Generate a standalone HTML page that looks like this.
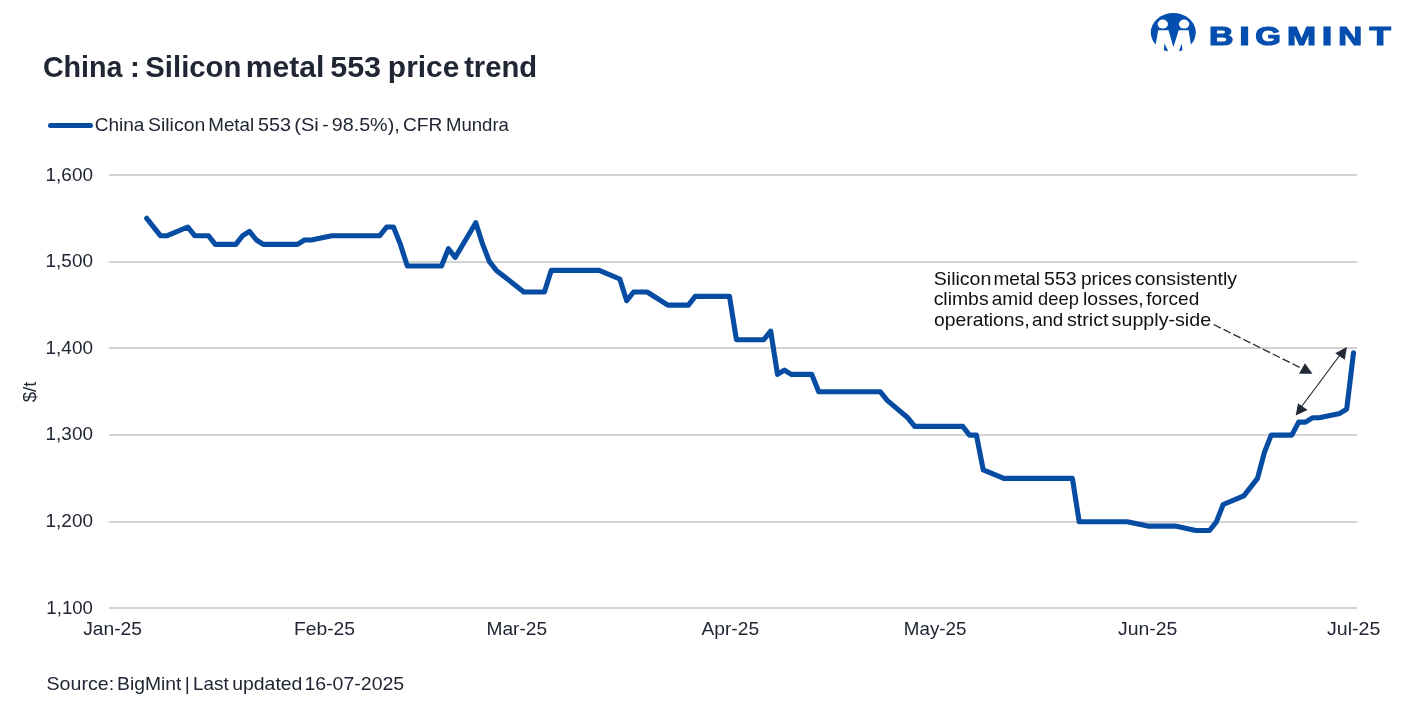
<!DOCTYPE html>
<html><head><meta charset="utf-8"><style>
html,body{margin:0;padding:0;background:#fff;}
body{width:1407px;height:709px;overflow:hidden;position:relative;}
svg{position:absolute;left:0;top:0;will-change:transform;}
text{font-family:"Liberation Sans",Arial,sans-serif;}
</style></head><body>
<svg width="1407" height="709" viewBox="0 0 1407 709">
<text x="42.88" y="76.95" font-size="29.8" font-weight="bold" fill="#202633" textLength="79.61" lengthAdjust="spacingAndGlyphs">China</text>
<text x="129.88" y="76.95" font-size="29.8" font-weight="bold" fill="#202633" textLength="9.87" lengthAdjust="spacingAndGlyphs">:</text>
<text x="145.3" y="76.95" font-size="29.8" font-weight="bold" fill="#202633" textLength="96.11" lengthAdjust="spacingAndGlyphs">Silicon</text>
<text x="245.68" y="76.95" font-size="29.8" font-weight="bold" fill="#202633" textLength="78.64" lengthAdjust="spacingAndGlyphs">metal</text>
<text x="330.19" y="76.95" font-size="29.8" font-weight="bold" fill="#202633" textLength="50.87" lengthAdjust="spacingAndGlyphs">553</text>
<text x="387.89" y="76.95" font-size="29.8" font-weight="bold" fill="#202633" textLength="71.43" lengthAdjust="spacingAndGlyphs">price</text>
<text x="464.13" y="76.95" font-size="29.8" font-weight="bold" fill="#202633" textLength="73.08" lengthAdjust="spacingAndGlyphs">trend</text>
<line x1="50.5" y1="125.5" x2="90.5" y2="125.5" stroke="#064ca3" stroke-width="5.0" stroke-linecap="round"/>
<text x="94.67" y="131" font-size="18.5" fill="#202633" textLength="49.71" lengthAdjust="spacingAndGlyphs">China</text>
<text x="147.97" y="131" font-size="18.5" fill="#202633" textLength="57.31" lengthAdjust="spacingAndGlyphs">Silicon</text>
<text x="208.25" y="131" font-size="18.5" fill="#202633" textLength="45.92" lengthAdjust="spacingAndGlyphs">Metal</text>
<text x="258.02" y="131" font-size="18.5" fill="#202633" textLength="33.02" lengthAdjust="spacingAndGlyphs">553</text>
<text x="294.21" y="131" font-size="18.5" fill="#202633" textLength="24.66" lengthAdjust="spacingAndGlyphs">(Si</text>
<text x="322.23" y="131" font-size="18.5" fill="#202633" textLength="6.43" lengthAdjust="spacingAndGlyphs">-</text>
<text x="331.73" y="131" font-size="18.5" fill="#202633" textLength="67.97" lengthAdjust="spacingAndGlyphs">98.5%),</text>
<text x="402.97" y="131" font-size="18.5" fill="#202633" textLength="39.33" lengthAdjust="spacingAndGlyphs">CFR</text>
<text x="445.97" y="131" font-size="18.5" fill="#202633" textLength="62.98" lengthAdjust="spacingAndGlyphs">Mundra</text>
<rect x="109" y="174" width="1248" height="2" fill="#d3d3d3"/>
<rect x="109" y="261" width="1248" height="2" fill="#d3d3d3"/>
<rect x="109" y="347" width="1248" height="2" fill="#d3d3d3"/>
<rect x="109" y="434" width="1248" height="2" fill="#d3d3d3"/>
<rect x="109" y="521" width="1248" height="2" fill="#d3d3d3"/>
<rect x="109" y="607" width="1248" height="2" fill="#d3d3d3"/>

<text x="45.55" y="180.8" font-size="18.5" fill="#202633" textLength="47.4" lengthAdjust="spacingAndGlyphs">1,600</text>
<text x="45.55" y="267.3" font-size="18.5" fill="#202633" textLength="47.4" lengthAdjust="spacingAndGlyphs">1,500</text>
<text x="45.55" y="353.9" font-size="18.5" fill="#202633" textLength="47.4" lengthAdjust="spacingAndGlyphs">1,400</text>
<text x="45.55" y="440.4" font-size="18.5" fill="#202633" textLength="47.4" lengthAdjust="spacingAndGlyphs">1,300</text>
<text x="45.55" y="526.9" font-size="18.5" fill="#202633" textLength="47.4" lengthAdjust="spacingAndGlyphs">1,200</text>
<text x="46.37" y="613.5" font-size="18.5" fill="#202633" textLength="46.61" lengthAdjust="spacingAndGlyphs">1,100</text>

<text x="83.15" y="635.1" font-size="18.5" fill="#202633" textLength="58.78" lengthAdjust="spacingAndGlyphs">Jan-25</text>
<text x="294.01" y="635.1" font-size="18.5" fill="#202633" textLength="61.07" lengthAdjust="spacingAndGlyphs">Feb-25</text>
<text x="486.52" y="635.1" font-size="18.5" fill="#202633" textLength="60.53" lengthAdjust="spacingAndGlyphs">Mar-25</text>
<text x="701.44" y="635.1" font-size="18.5" fill="#202633" textLength="57.65" lengthAdjust="spacingAndGlyphs">Apr-25</text>
<text x="903.85" y="635.1" font-size="18.5" fill="#202633" textLength="62.61" lengthAdjust="spacingAndGlyphs">May-25</text>
<text x="1117.94" y="635.1" font-size="18.5" fill="#202633" textLength="59.4" lengthAdjust="spacingAndGlyphs">Jun-25</text>
<text x="1327.04" y="635.1" font-size="18.5" fill="#202633" textLength="53.27" lengthAdjust="spacingAndGlyphs">Jul-25</text>
<text transform="translate(35.5,392) rotate(-90)" text-anchor="middle" font-size="18.5" fill="#202633">$/t</text>
<polyline points="146.7,218.3 160.4,235.7 167.3,235.7 187.8,227.0 194.7,235.7 208.4,235.7 215.3,244.4 235.8,244.4 242.7,235.7 249.5,231.4 256.4,240.0 263.3,244.4 297.5,244.4 304.4,240.0 311.3,240.0 331.8,235.7 379.8,235.7 386.7,227.0 393.5,227.0 400.4,244.4 407.3,266.0 441.5,266.0 448.4,248.7 455.2,257.4 475.8,222.7 482.7,244.4 489.5,261.7 496.4,270.4 523.8,292.0 544.4,292.0 551.2,270.4 599.2,270.4 619.8,279.0 626.7,300.7 633.5,292.0 647.2,292.0 667.8,305.1 688.4,305.1 695.2,296.4 729.5,296.4 736.4,339.7 763.8,339.7 770.7,331.1 777.5,374.4 784.4,370.1 791.2,374.4 811.8,374.4 818.7,391.8 880.4,391.8 887.2,400.4 907.8,417.8 914.7,426.4 962.7,426.4 969.5,435.1 976.4,435.1 983.2,469.8 1003.8,478.4 1072.4,478.4 1079.2,521.8 1127.2,521.8 1147.8,526.1 1175.2,526.1 1195.8,530.5 1209.5,530.5 1216.4,521.8 1223.2,504.5 1243.8,495.8 1257.5,478.4 1264.4,452.4 1271.2,435.1 1291.8,435.1 1298.7,422.1 1305.5,422.1 1312.4,417.8 1319.2,417.8 1339.8,413.4 1346.7,409.1 1353.5,352.7" fill="none" stroke="#064ca3" stroke-width="5.1" stroke-linejoin="round" stroke-linecap="round"/>
<text x="933.76" y="284.7" font-size="18.5" fill="#111" textLength="57.62" lengthAdjust="spacingAndGlyphs">Silicon</text>
<text x="993.48" y="284.7" font-size="18.5" fill="#111" textLength="46.6" lengthAdjust="spacingAndGlyphs">metal</text>
<text x="1044.14" y="284.7" font-size="18.5" fill="#111" textLength="32.6" lengthAdjust="spacingAndGlyphs">553</text>
<text x="1081.01" y="284.7" font-size="18.5" fill="#111" textLength="50.87" lengthAdjust="spacingAndGlyphs">prices</text>
<text x="1134.74" y="284.7" font-size="18.5" fill="#111" textLength="102.41" lengthAdjust="spacingAndGlyphs">consistently</text>
<text x="933.65" y="305.3" font-size="18.5" fill="#111" textLength="54.96" lengthAdjust="spacingAndGlyphs">climbs</text>
<text x="991.77" y="305.3" font-size="18.5" fill="#111" textLength="41.29" lengthAdjust="spacingAndGlyphs">amid</text>
<text x="1038.11" y="305.3" font-size="18.5" fill="#111" textLength="40.73" lengthAdjust="spacingAndGlyphs">deep</text>
<text x="1082.96" y="305.3" font-size="18.5" fill="#111" textLength="60.83" lengthAdjust="spacingAndGlyphs">losses,</text>
<text x="1146.31" y="305.3" font-size="18.5" fill="#111" textLength="52.96" lengthAdjust="spacingAndGlyphs">forced</text>
<text x="933.95" y="325.6" font-size="18.5" fill="#111" textLength="95.68" lengthAdjust="spacingAndGlyphs">operations,</text>
<text x="1031.98" y="325.6" font-size="18.5" fill="#111" textLength="31.36" lengthAdjust="spacingAndGlyphs">and</text>
<text x="1067.04" y="325.6" font-size="18.5" fill="#111" textLength="41.35" lengthAdjust="spacingAndGlyphs">strict</text>
<text x="1111.64" y="325.6" font-size="18.5" fill="#111" textLength="99.46" lengthAdjust="spacingAndGlyphs">supply-side</text>
<line x1="1213.7" y1="324.5" x2="1300.5" y2="367.8" stroke="#222a36" stroke-width="1.3" stroke-dasharray="8,3"/>
<polygon points="1304.9,363.2 1299.0,373.7 1312.5,373.7" fill="#222a36"/>
<line x1="1299" y1="410" x2="1343" y2="351" stroke="#222a36" stroke-width="1.2"/>
<polygon points="1346.9,347.0 1335.2,353.3 1344.8,359.8" fill="#222a36"/>
<polygon points="1295.7,415.6 1298,403.2 1307.6,410" fill="#222a36"/>
<text x="46.56" y="689.9" font-size="18.5" fill="#202633" textLength="67.57" lengthAdjust="spacingAndGlyphs">Source:</text>
<text x="117.11" y="689.9" font-size="18.5" fill="#202633" textLength="64.3" lengthAdjust="spacingAndGlyphs">BigMint</text>
<text x="184.73" y="689.9" font-size="18.5" fill="#202633" textLength="5.05" lengthAdjust="spacingAndGlyphs">|</text>
<text x="193.05" y="689.9" font-size="18.5" fill="#202633" textLength="35.6" lengthAdjust="spacingAndGlyphs">Last</text>
<text x="232.22" y="689.9" font-size="18.5" fill="#202633" textLength="70.18" lengthAdjust="spacingAndGlyphs">updated</text>
<text x="304.4" y="689.9" font-size="18.5" fill="#202633" textLength="99.81" lengthAdjust="spacingAndGlyphs">16-07-2025</text>
<defs><clipPath id="lg"><ellipse cx="1173.3" cy="32.5" rx="22.5" ry="19.5"/></clipPath></defs>
<ellipse cx="1173.3" cy="32.5" rx="22.5" ry="19.5" fill="#034eae"/>
<polygon points="1158.2,30.2 1168.5,30.2 1173.4,47.2 1178.7,30.2 1188.6,30.2 1193.4,60 1153,60" fill="#fff"/>
<g clip-path="url(#lg)">
<polygon points="1164.5,43.5 1163.6,52 1168.4,52" fill="#034eae"/>
<polygon points="1181.8,43.5 1178.6,52 1182.6,52" fill="#034eae"/>
</g>
<ellipse cx="1162.8" cy="24.1" rx="5.2" ry="4.5" fill="#fff"/>
<ellipse cx="1184.1" cy="24.1" rx="5.2" ry="4.5" fill="#fff"/>
<text x="1208.97" y="44.7" font-size="26.2" font-weight="bold" fill="#034eae" stroke="#034eae" stroke-width="1.2" textLength="24.56" lengthAdjust="spacingAndGlyphs">B</text>
<text x="1239.27" y="44.7" font-size="26.2" font-weight="bold" fill="#034eae" stroke="#034eae" stroke-width="1.2" textLength="10.57" lengthAdjust="spacingAndGlyphs">I</text>
<text x="1255.34" y="44.7" font-size="26.2" font-weight="bold" fill="#034eae" stroke="#034eae" stroke-width="1.2" textLength="25.61" lengthAdjust="spacingAndGlyphs">G</text>
<text x="1287.03" y="44.7" font-size="26.2" font-weight="bold" fill="#034eae" stroke="#034eae" stroke-width="1.2" textLength="29.12" lengthAdjust="spacingAndGlyphs">M</text>
<text x="1321.77" y="44.7" font-size="26.2" font-weight="bold" fill="#034eae" stroke="#034eae" stroke-width="1.2" textLength="10.57" lengthAdjust="spacingAndGlyphs">I</text>
<text x="1338.32" y="44.7" font-size="26.2" font-weight="bold" fill="#034eae" stroke="#034eae" stroke-width="1.2" textLength="23.97" lengthAdjust="spacingAndGlyphs">N</text>
<text x="1369.56" y="44.7" font-size="26.2" font-weight="bold" fill="#034eae" stroke="#034eae" stroke-width="1.2" textLength="21.29" lengthAdjust="spacingAndGlyphs">T</text>
</svg>
</body></html>
